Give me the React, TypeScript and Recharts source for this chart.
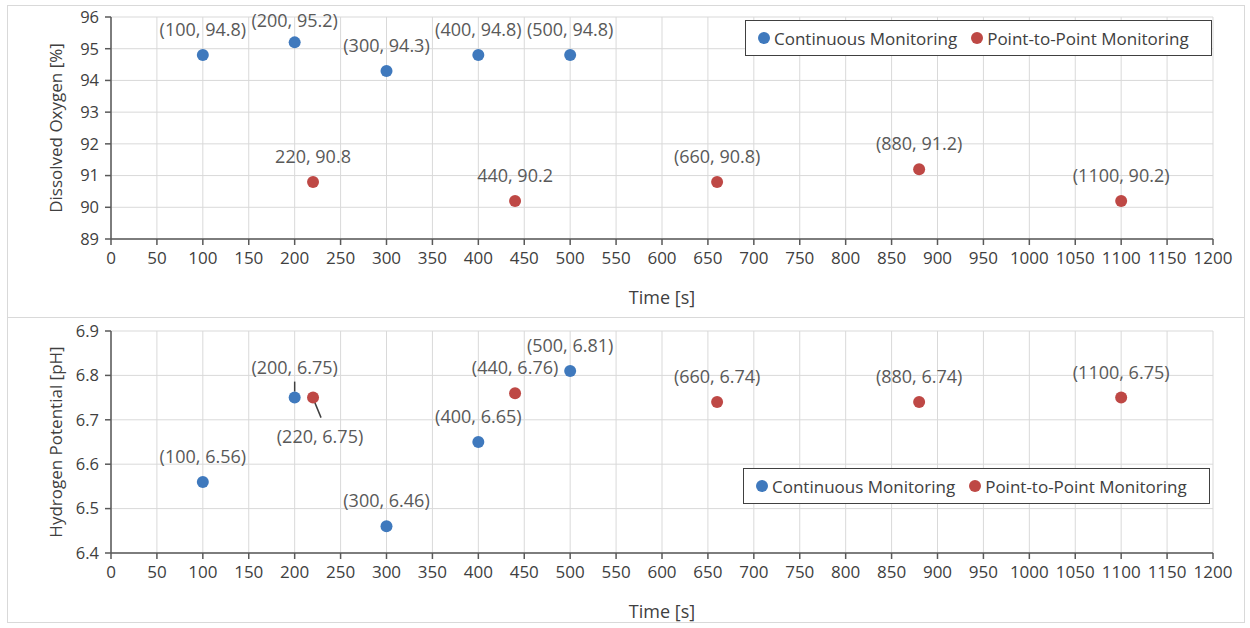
import React from "react";
import {
  ScatterChart, Scatter, XAxis, YAxis, CartesianGrid, Legend, Label,
} from "recharts";

// time axis, shared by both panels
const timeTicks = [0, 50, 100, 150, 200, 250, 300, 350, 400, 450, 500, 550, 600, 650, 700, 750, 800, 850, 900, 950, 1000, 1050, 1100, 1150, 1200];

// dissolved oxygen panel
const doTicks = [89, 90, 91, 92, 93, 94, 95, 96];
const doContTime = [100, 200, 300, 400, 500];
const doContValue = [94.8, 95.2, 94.3, 94.8, 94.8];
const doContLabel = ["(100, 94.8)", "(200, 95.2)", "(300, 94.3)", "(400, 94.8)", "(500, 94.8)"];
const doP2pTime = [220, 440, 660, 880, 1100];
const doP2pValue = [90.8, 90.2, 90.8, 91.2, 90.2];
const doP2pLabel = ["220, 90.8", "440, 90.2", "(660, 90.8)", "(880, 91.2)", "(1100, 90.2)"];

// pH panel
const phTicks = [6.4, 6.5, 6.6, 6.7, 6.8, 6.9];
const phContTime = [100, 200, 300, 400, 500];
const phContValue = [6.56, 6.75, 6.46, 6.65, 6.81];
const phContLabel = ["(100, 6.56)", "(200, 6.75)", "(300, 6.46)", "(400, 6.65)", "(500, 6.81)"];
const phP2pTime = [220, 440, 660, 880, 1100];
const phP2pValue = [6.75, 6.76, 6.74, 6.74, 6.75];
const phP2pLabel = ["(220, 6.75)", "(440, 6.76)", "(660, 6.74)", "(880, 6.74)", "(1100, 6.75)"];

const BLUE = "#3F79BD";
const RED = "#BE4845";
const FONT = "'Open Sans', sans-serif";

const zip = (t: number[], v: number[], l: string[]) =>
  t.map((x, i) => ({ x, y: v[i], label: l[i] }));

// where a label does not sit straight above its marker
const labelNudge: Record<string, { dx: number; dy: number; leader?: number[] }> = {
  "(200, 95.2)": { dx: 0, dy: -21 },
  "(200, 6.75)": { dx: 0, dy: -30, leader: [0, -16, 0, -6] },
  "(220, 6.75)": { dx: 7, dy: 39, leader: [1, 3, 8, 20] },
};

const makeShape = (color: string) => (props: any) => {
  const { cx, cy, payload } = props;
  const n = labelNudge[payload.label] || { dx: 0, dy: -25 };
  return (
    <g>
      {n.leader && (
        <line x1={cx + n.leader[0]} y1={cy + n.leader[1]} x2={cx + n.leader[2]} y2={cy + n.leader[3]}
          stroke="#404040" strokeWidth={1.5} />
      )}
      <circle cx={cx} cy={cy} r={6} fill={color} />
      <text x={cx + n.dx} y={cy + n.dy + 6} textAnchor="middle" fontSize={18}
        fontFamily={FONT} fill="#595959">
        {payload.label}
      </text>
    </g>
  );
};

const LegendBox = () => (
  <div style={{
    border: "1.5px solid #404040", background: "#fff", height: 36, boxSizing: "border-box",
    display: "flex", alignItems: "center", fontFamily: FONT, fontSize: 17, color: "#404040",
    paddingLeft: 12,
  }}>
    <span style={{ width: 12, height: 12, borderRadius: 6, background: BLUE, marginRight: 4 }} />
    <span style={{ marginRight: 14 }}>Continuous Monitoring</span>
    <span style={{ width: 12, height: 12, borderRadius: 6, background: RED, marginRight: 4 }} />
    <span>Point-to-Point Monitoring</span>
  </div>
);

const yTitle = (text: string) => (p: any) => {
  const vb = p.viewBox;
  const cy = vb.y + vb.height / 2;
  return (
    <text x={55} y={cy} transform={`rotate(-90 55 ${cy})`} textAnchor="middle" dominantBaseline="central"
      fontSize={17} fontFamily={FONT} fill="#404040">
      {text}
    </text>
  );
};

const xTickStyle = { fontSize: 17, fontFamily: FONT, fill: "#404040" };
const yTickStyle = { fontSize: 16.5, fontFamily: FONT, fill: "#404040" };

interface PanelProps {
  yTicks: number[];
  yDigits: number;
  title: string;
  cont: { x: number; y: number; label: string }[];
  p2p: { x: number; y: number; label: string }[];
  legendTop: number;
  legendLeft: number;
}

const Panel: React.FC<PanelProps> = ({ yTicks, yDigits, title, cont, p2p, legendTop, legendLeft }) => (
  <ScatterChart width={1250} height={314} margin={{ top: 17, right: 37, bottom: 0, left: 0 }}>
    <CartesianGrid stroke="#d9d9d9" strokeWidth={1} />
    <XAxis type="number" dataKey="x" domain={[0, 1200]} ticks={timeTicks} interval={0}
      height={75} stroke="#595959" strokeWidth={1.5} tick={xTickStyle} tickMargin={7}>
      <Label value="Time [s]" position="insideBottom" offset={10} fontSize={18} fontFamily={FONT} fill="#404040" />
    </XAxis>
    <YAxis type="number" dataKey="y" domain={[yTicks[0], yTicks[yTicks.length - 1]]} ticks={yTicks}
      interval={0} width={111} stroke="#595959" strokeWidth={1.5} tick={yTickStyle} tickMargin={6}
      tickFormatter={(v: number) => v.toFixed(yDigits)}>
      <Label content={yTitle(title)} />
    </YAxis>
    <Legend layout="vertical" verticalAlign="middle" align="center" content={<LegendBox />}
      wrapperStyle={{ position: "absolute", top: legendTop, left: legendLeft, width: 467, height: 36 }} />
    <Scatter name="Continuous Monitoring" data={cont} fill={BLUE} shape={makeShape(BLUE)} isAnimationActive={false} />
    <Scatter name="Point-to-Point Monitoring" data={p2p} fill={RED} shape={makeShape(RED)} isAnimationActive={false} />
  </ScatterChart>
);

const App: React.FC = () => (
  <div style={{ position: "relative", width: 1250, height: 628, background: "#fff", overflow: "hidden" }}>
    <style>{"body{margin:0}"}</style>
    <div style={{ position: "absolute", left: 7, top: 5, width: 1236, height: 311, border: "1px solid #d9d9d9" }} />
    <div style={{ position: "absolute", left: 7, top: 317, width: 1236, height: 304, border: "1px solid #d9d9d9" }} />
    <div style={{ position: "absolute", left: 0, top: 0 }}>
      <Panel yTicks={doTicks} yDigits={0} title="Dissolved Oxygen [%]"
        cont={zip(doContTime, doContValue, doContLabel)} p2p={zip(doP2pTime, doP2pValue, doP2pLabel)}
        legendTop={20} legendLeft={745} />
    </div>
    <div style={{ position: "absolute", left: 0, top: 314 }}>
      <Panel yTicks={phTicks} yDigits={1} title="Hydrogen Potential [pH]"
        cont={zip(phContTime, phContValue, phContLabel)} p2p={zip(phP2pTime, phP2pValue, phP2pLabel)}
        legendTop={154} legendLeft={743} />
    </div>
  </div>
);

export default App;
